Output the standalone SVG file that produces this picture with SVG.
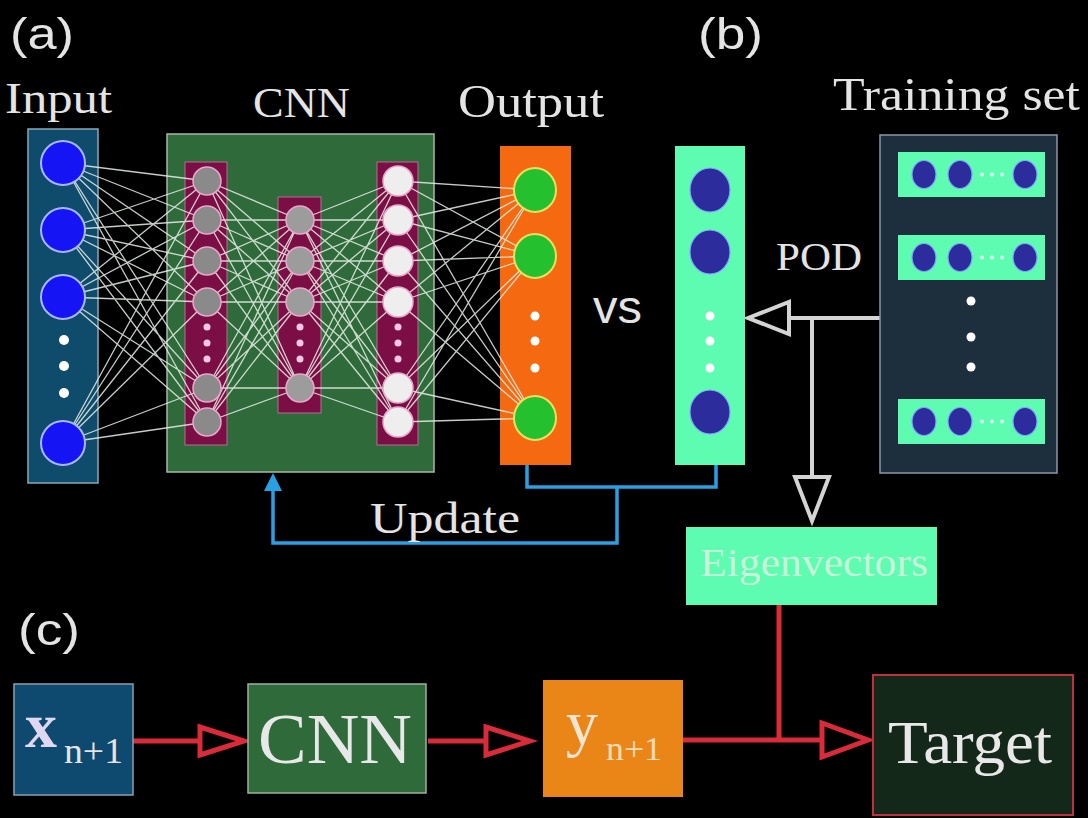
<svg xmlns="http://www.w3.org/2000/svg" width="1088" height="818" viewBox="0 0 1088 818">
  <style>
    .serif { font-family: "Liberation Serif", "Times New Roman", serif; fill: #e4e4e4; }
    .sans { font-family: "Liberation Sans", Arial, sans-serif; fill: #e4e4e4; }
    .net { fill: none; stroke: #e8eee8; stroke-width: 1.3; stroke-opacity: 0.85; }
    .col { fill: #7b0f45; stroke: #b0708f; stroke-width: 1; }
    .n1 { fill: #8a8a8a; stroke: #e8a8c8; stroke-width: 1.5; }
    .n2 { fill: #9c9c9c; stroke: #e8a8c8; stroke-width: 1.5; }
    .n3 { fill: #eeeeee; stroke: #e8a8c8; stroke-width: 1.5; }
    .pd { fill: #f4c8e4; }
    .wd { fill: #ffffff; }
    .inN { fill: #1414f5; stroke: #a8b8ff; stroke-width: 2; }
    .outN { fill: #24c02e; stroke: #e8e060; stroke-width: 2; }
    .pod { fill: #2c2c9c; stroke: #80a8ff; stroke-width: 1.2; }
    .mint { fill: #5efcb0; }
    .gray { fill: none; stroke: #d4d4d4; stroke-width: 4; }
    .red { fill: none; stroke: #d92b3a; stroke-width: 5; }
    .blue { fill: none; stroke: #2aa0e4; stroke-width: 3.5; }
  </style>

  <rect width="1088" height="818" fill="#000"/>

  <!-- panel labels -->
  <text class="sans" x="10" y="49" font-size="44" textLength="64" lengthAdjust="spacingAndGlyphs">(a)</text>
  <text class="sans" x="698" y="49" font-size="44" textLength="65" lengthAdjust="spacingAndGlyphs">(b)</text>
  <text class="sans" x="18" y="645" font-size="44" textLength="62" lengthAdjust="spacingAndGlyphs">(c)</text>

  <!-- input layer -->
  <g id="input">
    <text class="serif" x="5" y="113" font-size="44" textLength="107" lengthAdjust="spacingAndGlyphs">Input</text>
    <rect x="28" y="129" width="70" height="354" fill="#0f4c6c" stroke="#8aa8b8" stroke-width="1.5"/>
  </g>

  <!-- CNN block -->
  <g id="cnn">
    <text class="serif" x="253" y="117" font-size="42" textLength="97" lengthAdjust="spacingAndGlyphs">CNN</text>
    <rect x="167" y="134" width="267" height="338" fill="#2f6b3a" stroke="#a8b8a8" stroke-width="1.5"/>
    <rect class="col" x="185" y="162" width="42" height="283"/>
    <rect class="col" x="278" y="197" width="43" height="216"/>
    <rect class="col" x="377" y="162" width="41" height="283"/>
  </g>

  <!-- output layer -->
  <g id="output">
    <text class="serif" x="458" y="117" font-size="46" textLength="146" lengthAdjust="spacingAndGlyphs">Output</text>
    <rect x="500" y="146" width="71" height="319" fill="#f56a10"/>
  </g>

  <!-- fully connected links -->
  <g id="connectors">
    <path class="net" d="M63 163L207 181M63 163L207 220M63 163L207 261M63 163L207 302M63 163L207 388M63 163L207 422
      M63 230L207 181M63 230L207 220M63 230L207 261M63 230L207 302M63 230L207 388M63 230L207 422
      M63 297L207 181M63 297L207 220M63 297L207 261M63 297L207 302M63 297L207 388M63 297L207 422
      M63 443L207 181M63 443L207 220M63 443L207 261M63 443L207 302M63 443L207 388M63 443L207 422"/>
    <path class="net" d="M207 181L300 220M207 181L300 261M207 181L300 302M207 181L300 388
      M207 220L300 220M207 220L300 261M207 220L300 302M207 220L300 388
      M207 261L300 220M207 261L300 261M207 261L300 302M207 261L300 388
      M207 302L300 220M207 302L300 261M207 302L300 302M207 302L300 388
      M207 388L300 220M207 388L300 261M207 388L300 302M207 388L300 388
      M207 422L300 220M207 422L300 261M207 422L300 302M207 422L300 388"/>
    <path class="net" d="M300 220L398 181M300 220L398 220M300 220L398 261M300 220L398 302M300 220L398 388M300 220L398 422
      M300 261L398 181M300 261L398 220M300 261L398 261M300 261L398 302M300 261L398 388M300 261L398 422
      M300 302L398 181M300 302L398 220M300 302L398 261M300 302L398 302M300 302L398 388M300 302L398 422
      M300 388L398 181M300 388L398 220M300 388L398 261M300 388L398 302M300 388L398 388M300 388L398 422"/>
    <path class="net" d="M398 181L535 190M398 181L535 256M398 181L535 418
      M398 220L535 190M398 220L535 256M398 220L535 418
      M398 261L535 190M398 261L535 256M398 261L535 418
      M398 302L535 190M398 302L535 256M398 302L535 418
      M398 388L535 190M398 388L535 256M398 388L535 418
      M398 422L535 190M398 422L535 256M398 422L535 418"/>

    <!-- update loop -->
    <path class="blue" d="M527 465V487H716V465M617 487V543H273V488"/>
    <polygon points="273,473 264,491 282,491" fill="#2aa0e4"/>

    <!-- POD projection -->
    <path class="gray" d="M880 318H789M812 318V477"/>
    <polygon class="gray" points="748,318 789,302 789,334"/>
    <polygon class="gray" points="795,477 829,477 812,521"/>

    <!-- prediction chain -->
    <path class="red" d="M133 741H200M428 741H486M683 740H822M779 605V740"/>
    <polygon class="red" points="200,727 200,755 244,741"/>
    <polygon class="red" points="486,727 486,755 530,741"/>
    <polygon class="red" points="822,723 822,757 868,740"/>
  </g>

  <!-- neurons -->
  <g id="input-nodes">
    <circle class="inN" cx="63" cy="163" r="22"/>
    <circle class="inN" cx="63" cy="230" r="22"/>
    <circle class="inN" cx="63" cy="297" r="22"/>
    <circle class="inN" cx="63" cy="443" r="22"/>
    <circle class="wd" cx="64" cy="340" r="5"/>
    <circle class="wd" cx="64" cy="366" r="5"/>
    <circle class="wd" cx="64" cy="393" r="5"/>
  </g>
  <g id="cnn-nodes">
    <circle class="n1" cx="207" cy="181" r="14"/>
    <circle class="n1" cx="207" cy="220" r="14"/>
    <circle class="n1" cx="207" cy="261" r="14"/>
    <circle class="n1" cx="207" cy="302" r="14"/>
    <circle class="n1" cx="207" cy="388" r="14"/>
    <circle class="n1" cx="207" cy="422" r="14"/>
    <circle class="pd" cx="207" cy="327" r="3.5"/>
    <circle class="pd" cx="207" cy="343" r="3.5"/>
    <circle class="pd" cx="207" cy="359" r="3.5"/>

    <circle class="n2" cx="300" cy="220" r="14"/>
    <circle class="n2" cx="300" cy="261" r="14"/>
    <circle class="n2" cx="300" cy="302" r="14"/>
    <circle class="n2" cx="300" cy="388" r="14"/>
    <circle class="pd" cx="300" cy="327" r="3.5"/>
    <circle class="pd" cx="300" cy="343" r="3.5"/>
    <circle class="pd" cx="300" cy="359" r="3.5"/>

    <circle class="n3" cx="398" cy="181" r="15"/>
    <circle class="n3" cx="398" cy="220" r="15"/>
    <circle class="n3" cx="398" cy="261" r="15"/>
    <circle class="n3" cx="398" cy="302" r="15"/>
    <circle class="n3" cx="398" cy="388" r="15"/>
    <circle class="n3" cx="398" cy="422" r="15"/>
    <circle class="pd" cx="398" cy="327" r="3.5"/>
    <circle class="pd" cx="398" cy="343" r="3.5"/>
    <circle class="pd" cx="398" cy="359" r="3.5"/>
  </g>
  <g id="output-nodes">
    <ellipse class="outN" cx="535" cy="190" rx="21" ry="22"/>
    <ellipse class="outN" cx="535" cy="256" rx="21" ry="22"/>
    <ellipse class="outN" cx="535" cy="418" rx="21" ry="22"/>
    <circle class="wd" cx="535" cy="316" r="4.5"/>
    <circle class="wd" cx="535" cy="341" r="4.5"/>
    <circle class="wd" cx="535" cy="368" r="4.5"/>
  </g>

  <text class="sans" x="593" y="323" font-size="47" textLength="49" lengthAdjust="spacingAndGlyphs">vs</text>
  <text class="serif" x="370" y="533" font-size="44" textLength="150" lengthAdjust="spacingAndGlyphs">Update</text>

  <!-- reduced (POD) representation -->
  <g id="pod-vector">
    <rect class="mint" x="675" y="146" width="70" height="319"/>
    <ellipse class="pod" cx="710" cy="190" rx="20" ry="22"/>
    <ellipse class="pod" cx="710" cy="252" rx="20" ry="22"/>
    <ellipse class="pod" cx="710" cy="412" rx="20" ry="22"/>
    <circle class="wd" cx="710" cy="316" r="4.5"/>
    <circle class="wd" cx="710" cy="341" r="4.5"/>
    <circle class="wd" cx="710" cy="368" r="4.5"/>
    <text class="serif" x="776" y="270" font-size="40" textLength="86" lengthAdjust="spacingAndGlyphs">POD</text>
  </g>

  <!-- training snapshots -->
  <g id="training-set">
    <text class="serif" x="833" y="110" font-size="46" textLength="247" lengthAdjust="spacingAndGlyphs">Training set</text>
    <rect x="880" y="135" width="177" height="338" fill="#1d2e3c" stroke="#8898a6" stroke-width="1.5"/>
    <rect class="mint" x="898" y="152" width="147" height="45"/>
    <rect class="mint" x="898" y="235" width="147" height="45"/>
    <rect class="mint" x="898" y="399" width="147" height="45"/>
    <ellipse class="pod" cx="924" cy="174.5" rx="12" ry="14"/>
    <ellipse class="pod" cx="960" cy="174.5" rx="12" ry="14"/>
    <ellipse class="pod" cx="1025" cy="174.5" rx="12" ry="14"/>
    <ellipse class="pod" cx="924" cy="257.5" rx="12" ry="14"/>
    <ellipse class="pod" cx="960" cy="257.5" rx="12" ry="14"/>
    <ellipse class="pod" cx="1025" cy="257.5" rx="12" ry="14"/>
    <ellipse class="pod" cx="924" cy="421.5" rx="12" ry="14"/>
    <ellipse class="pod" cx="960" cy="421.5" rx="12" ry="14"/>
    <ellipse class="pod" cx="1025" cy="421.5" rx="12" ry="14"/>
    <g fill="#e0fff0">
      <circle cx="982" cy="174.5" r="2"/><circle cx="992" cy="174.5" r="2"/><circle cx="1002" cy="174.5" r="2"/>
      <circle cx="982" cy="257.5" r="2"/><circle cx="992" cy="257.5" r="2"/><circle cx="1002" cy="257.5" r="2"/>
      <circle cx="982" cy="421.5" r="2"/><circle cx="992" cy="421.5" r="2"/><circle cx="1002" cy="421.5" r="2"/>
    </g>
    <circle class="wd" cx="971" cy="301" r="4.5"/>
    <circle class="wd" cx="971" cy="337" r="4.5"/>
    <circle class="wd" cx="971" cy="367" r="4.5"/>
  </g>

  <g id="eigenvectors">
    <rect class="mint" x="686" y="527" width="251" height="78"/>
    <text class="serif" x="700" y="576" font-size="40" textLength="228" lengthAdjust="spacingAndGlyphs" style="fill:#c8f2da">Eigenvectors</text>
  </g>

  <!-- prediction stage -->
  <g id="x-input">
    <rect x="14" y="684" width="119" height="111" fill="#0e4a70" stroke="#8aa0b0" stroke-width="1.5"/>
    <text class="serif" x="25" y="747" font-size="64" font-weight="bold" style="fill:#e0d8f0">x</text>
    <text class="serif" x="64" y="763" font-size="36" textLength="59" lengthAdjust="spacingAndGlyphs">n+1</text>
  </g>
  <g id="cnn-model">
    <rect x="248" y="684" width="178" height="109" fill="#2f6b3a" stroke="#a0b0a0" stroke-width="1.5"/>
    <text class="serif" x="258" y="763" font-size="72" textLength="154" lengthAdjust="spacingAndGlyphs" style="fill:#e8e8e8">CNN</text>
  </g>
  <g id="y-output">
    <rect x="543" y="680" width="140" height="117" fill="#ea8618"/>
    <text class="serif" x="566" y="744" font-size="64" style="fill:#f2e6d2">y</text>
    <text class="serif" x="606" y="760" font-size="34" textLength="56" lengthAdjust="spacingAndGlyphs" style="fill:#f2dcb8">n+1</text>
  </g>
  <g id="target">
    <rect x="873" y="675" width="200" height="140" fill="#14281a" stroke="#c03040" stroke-width="2"/>
    <text class="serif" x="888" y="763" font-size="62" textLength="164" lengthAdjust="spacingAndGlyphs" style="fill:#e8e8e8">Target</text>
  </g>
</svg>
